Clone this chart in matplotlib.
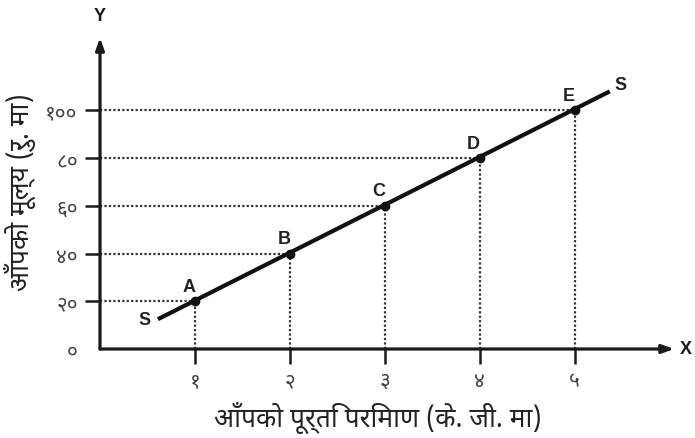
import matplotlib
matplotlib.use("Agg")
import matplotlib.pyplot as plt

# देवनागरी फन्ट
deva = ['Noto Sans Devanagari', 'Hind', 'Mukta', 'Arya', 'DejaVu Sans']
latin = ['Liberation Sans', 'DejaVu Sans']

# आपूर्ति तालिका
qty = [1, 2, 3, 4, 5]
price = [20, 40, 60, 80, 100]
point_names = ['A', 'B', 'C', 'D', 'E']

# S रेखाको दुई छेउ
line_x = [0.61, 5.37]
line_y = [12.5, 108]

x_ticklabels = ['१', '२', '३', '४', '५']
y_ticks = [0, 20, 40, 60, 80, 100]
y_ticklabels = ['०', '२०', '४०', '६०', '८०', '१००']

xlabel = 'आँपको पूर्ति परिमाण (के. जी. मा)'
ylabel = 'आँपको मूल्य (रु. मा)'

fig = plt.figure(figsize=(6.95, 4.39), dpi=100)
ax = fig.add_axes([100 / 695, 89 / 439, 598 / 695, 322 / 439])
ax.set_xlim(0, 6.3)
ax.set_ylim(0, 135)
for s in ax.spines.values():
    s.set_visible(False)

# अक्षहरू
axcol = '#1a1a1a'
ax.annotate('', xy=(6.05, 0), xytext=(0, 0), annotation_clip=False,
            arrowprops=dict(arrowstyle='-|>,head_length=0.7,head_width=0.25', lw=2.3, color=axcol, shrinkA=0, shrinkB=0))
ax.annotate('', xy=(0, 130.5), xytext=(0, 0), annotation_clip=False,
            arrowprops=dict(arrowstyle='-|>,head_length=0.7,head_width=0.25', lw=2.3, color=axcol, shrinkA=0, shrinkB=0))
ax.text(6.17, 0, 'X', family=latin, fontweight='bold', fontsize=13, ha='center', va='center', color=axcol)
ax.text(0, 140, 'Y', family=latin, fontweight='bold', fontsize=13, ha='center', va='center', color=axcol, clip_on=False)

# टिकहरू
ax.set_xticks(qty)
ax.set_xticklabels(x_ticklabels, family=deva, fontsize=15, color='#444444')
ax.set_yticks(y_ticks)
ax.set_yticklabels(y_ticklabels, family=deva, fontsize=15, color='#444444')
ax.tick_params(axis='both', length=11, width=1.8, color=axcol, direction='out')
ax.tick_params(axis='x', pad=4)
ax.tick_params(axis='y', pad=5)
ax.yaxis.get_major_ticks()[0].tick1line.set_visible(False)

# डट रेखाहरू
for q, p in zip(qty, price):
    ax.plot([0, q], [p, p], ls=(0, (1, 1)), lw=1.6, color='#333333')
    ax.plot([q, q], [0, p], ls=(0, (1, 1)), lw=1.6, color='#333333')

# आपूर्ति रेखा
ax.plot(line_x, line_y, color='#111111', lw=3, solid_capstyle='butt')
ax.plot(qty, price, 'o', color='#111111', ms=6)
for q, p, n in zip(qty, price, point_names):
    ax.annotate(n, (q, p), xytext=(-6, 15), textcoords='offset pixels', ha='center', va='center',
                family=latin, fontweight='bold', fontsize=13, color='#222222')
ax.annotate('S', (line_x[0], line_y[0]), xytext=(-13, 0), textcoords='offset pixels', ha='center', va='center',
            family=latin, fontweight='bold', fontsize=13, color='#222222')
ax.annotate('S', (line_x[1], line_y[1]), xytext=(11, 7), textcoords='offset pixels', ha='center', va='center',
            family=latin, fontweight='bold', fontsize=13, color='#222222')

fig.text(378 / 695, 1 - 418 / 439, xlabel, family=deva, fontsize=19, ha='center', va='center', color='#222222')
fig.text(20 / 695, 1 - 192 / 439, ylabel, family=deva, fontsize=19, ha='center', va='center', rotation=90, color='#222222')

fig.savefig('out.png')
